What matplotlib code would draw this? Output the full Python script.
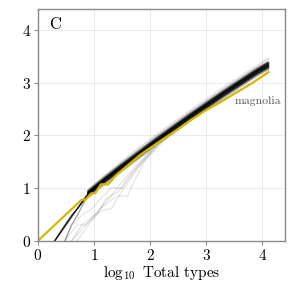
"""Panel C - log10 types vs log10 total types, magnolia highlighted."""

import matplotlib
matplotlib.use("Agg")
import matplotlib.pyplot as plt

plt.rcParams["font.family"] = "serif"
plt.rcParams["font.serif"] = ["cmr10", "DejaVu Serif"]
plt.rcParams["mathtext.fontset"] = "cm"
plt.rcParams["axes.formatter.use_mathtext"] = True

# --- data ---
band_x = [0.90, 1.20, 1.50, 1.80, 2.10, 2.40, 2.70, 3.00, 3.30, 3.60, 3.90, 4.10]
band_curves = [
    [0.90, 1.16, 1.40, 1.64, 1.88, 2.11, 2.34, 2.56, 2.78, 2.99, 3.20, 3.32],
    [0.92, 1.18, 1.43, 1.67, 1.91, 2.14, 2.37, 2.59, 2.81, 3.02, 3.23, 3.36],
    [0.95, 1.21, 1.46, 1.70, 1.94, 2.17, 2.40, 2.62, 2.84, 3.05, 3.26, 3.38],
    [0.87, 1.13, 1.37, 1.61, 1.85, 2.08, 2.31, 2.53, 2.75, 2.96, 3.17, 3.29],
    [0.91, 1.17, 1.42, 1.66, 1.90, 2.13, 2.36, 2.58, 2.80, 3.01, 3.22, 3.34],
    [0.84, 1.10, 1.34, 1.58, 1.82, 2.05, 2.28, 2.50, 2.72, 2.93, 3.14, 3.26],
    [0.96, 1.24, 1.50, 1.75, 1.99, 2.22, 2.45, 2.67, 2.89, 3.10, 3.31, 3.45],
    [0.93, 1.19, 1.44, 1.68, 1.92, 2.15, 2.38, 2.60, 2.82, 3.03, 3.24, 3.37],
    [0.88, 1.14, 1.38, 1.62, 1.86, 2.09, 2.32, 2.54, 2.76, 2.97, 3.18, 3.30],
]
band_alpha = [0.55, 0.55, 0.35, 0.45, 0.55, 0.30, 0.12, 0.30, 0.50]

lead_curves = [
    ([0.30, 0.50, 0.76, 0.90], [0.00, 0.30, 0.70, 0.88]),
    ([0.30, 0.48, 0.60, 0.78, 0.90], [0.00, 0.30, 0.48, 0.70, 0.90]),
    ([0.48, 0.60, 0.70, 0.85, 0.90], [0.00, 0.30, 0.48, 0.78, 0.86]),
    ([0.30, 0.60, 0.70, 0.90], [0.00, 0.48, 0.60, 0.92]),
]
lead_alpha = [0.8, 0.5, 0.35, 0.45]

light_curves = [
    ([0.48, 0.70, 0.85, 1.00, 1.10, 1.30, 1.60, 2.00],
     [0.00, 0.30, 0.30, 0.48, 0.60, 0.85, 1.25, 1.70]),
    ([0.60, 0.78, 1.00, 1.20, 1.30, 1.50, 1.80, 2.10],
     [0.00, 0.30, 0.48, 0.60, 0.60, 0.95, 1.40, 1.80]),
    ([0.70, 0.90, 1.10, 1.40, 1.60, 1.70, 1.90, 2.20],
     [0.00, 0.30, 0.60, 0.85, 0.85, 1.10, 1.50, 1.88]),
    ([0.48, 0.60, 0.78, 0.95, 1.30, 1.50, 1.80, 2.10],
     [0.00, 0.30, 0.48, 0.60, 1.00, 1.00, 1.45, 1.80]),
    ([0.60, 0.85, 1.05, 1.20, 1.45, 1.60, 2.00, 2.40],
     [0.00, 0.30, 0.48, 0.78, 0.95, 1.20, 1.65, 2.05]),
]

magnolia_x = [0.00, 0.78, 0.85, 0.95, 1.02, 1.12, 1.25, 1.40, 1.60, 1.81, 2.00, 2.26,
              2.50, 2.71, 3.00, 3.30, 3.50, 3.80, 4.11]
magnolia_y = [0.00, 0.78, 0.78, 0.90, 0.90, 1.07, 1.07, 1.25, 1.43, 1.62, 1.76, 1.95,
              2.12, 2.28, 2.48, 2.66, 2.79, 2.98, 3.20]

ticks = [0, 1, 2, 3, 4]

fig = plt.figure(figsize=(2.94, 2.94), dpi=100)
ax = fig.add_axes([0.129, 0.181, 0.840, 0.789])

for xs, ys in light_curves:
    ax.plot(xs, ys, color="black", alpha=0.12, lw=0.8)
for (xs, ys), a in zip(lead_curves, lead_alpha):
    ax.plot(xs, ys, color="black", alpha=a, lw=0.9)
for ys, a in zip(band_curves, band_alpha):
    ax.plot(band_x, ys, color="black", alpha=a, lw=2.0, solid_capstyle="round")
ax.plot(magnolia_x, magnolia_y, color="#d6b600", lw=1.6)

ax.text(3.5, 2.66, "magnolia", color="#555555", fontsize=8.5, va="center", ha="left")
ax.text(0.046, 0.934, "C", transform=ax.transAxes, fontsize=12, va="center", ha="left")

ax.set_xlim(0, 4.4)
ax.set_ylim(0, 4.4)
ax.set_xticks(ticks)
ax.set_yticks(ticks)
ax.tick_params(labelsize=11, length=3, width=0.8, color="#888888", pad=2)
ax.set_xlabel(r"$\log_{10}$ Total types", fontsize=11, labelpad=1)
ax.grid(True, color="#e8e8e8", lw=0.6)
ax.set_axisbelow(True)
for s in ax.spines.values():
    s.set_color("#888888")
    s.set_linewidth(1.0)

fig.savefig("out.png", dpi=100)
